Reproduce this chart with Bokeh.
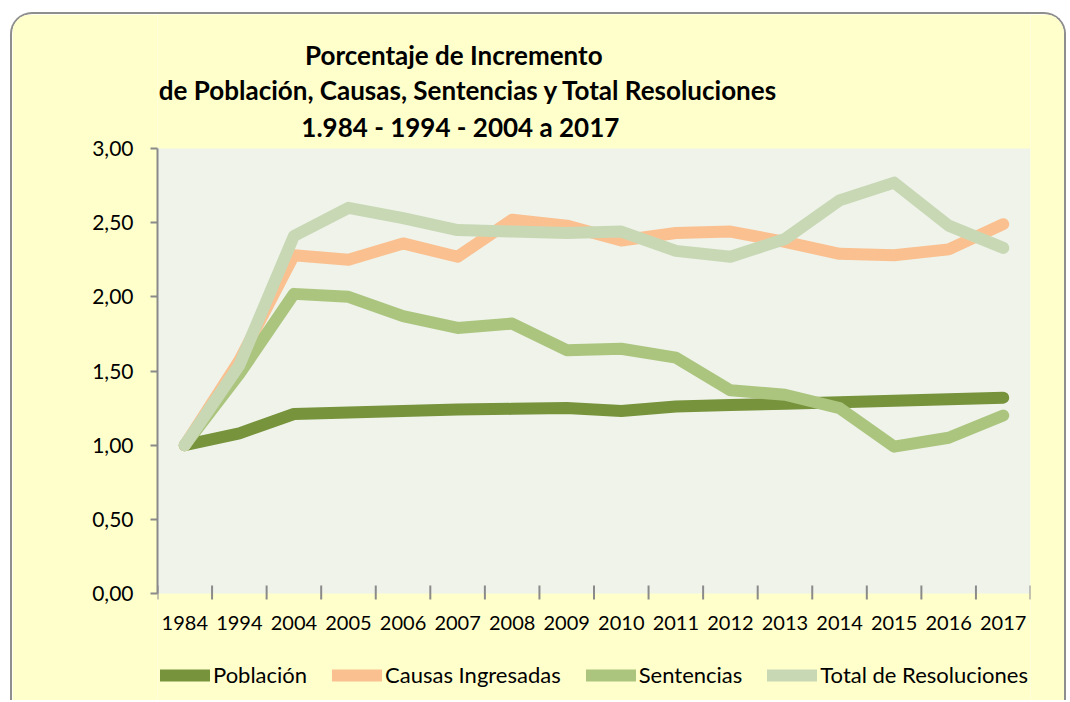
import numpy as np
from bokeh.plotting import figure
from bokeh.models import (Range1d, FixedTicker, LinearAxis, Legend, LegendItem, Label, BoxAnnotation)
from bokeh.core.properties import value
from bokeh.embed import file_html
from bokeh.resources import INLINE

years = ["1984", "1994", "2004", "2005", "2006", "2007", "2008", "2009",
         "2010", "2011", "2012", "2013", "2014", "2015", "2016", "2017"]
poblacion = [1.00, 1.08, 1.21, 1.22, 1.23, 1.24, 1.245, 1.25, 1.23, 1.26,
             1.27, 1.28, 1.29, 1.30, 1.31, 1.32]
causas = [1.00, 1.57, 2.28, 2.25, 2.36, 2.27, 2.52, 2.48, 2.38, 2.43,
          2.44, 2.37, 2.29, 2.28, 2.32, 2.49]
sentencias = [1.00, 1.48, 2.02, 2.00, 1.87, 1.79, 1.82, 1.64, 1.65, 1.59,
              1.37, 1.34, 1.25, 0.99, 1.05, 1.20]
total = [1.00, 1.54, 2.41, 2.60, 2.53, 2.45, 2.44, 2.43, 2.44, 2.31,
         2.27, 2.39, 2.65, 2.77, 2.48, 2.33]
series_names = ["Población", "Causas Ingresadas", "Sentencias", "Total de Resoluciones"]
series_colors = ["#77933C", "#FAC090", "#ABC57F", "#C8D8B5"]
y_ticks = [0.0, 0.5, 1.0, 1.5, 2.0, 2.5, 3.0]
y_tick_labels = ["0,00", "0,50", "1,00", "1,50", "2,00", "2,50", "3,00"]
title_lines = ["Porcentaje de Incremento",
               "de Población, Causas, Sentencias y Total Resoluciones",
               "1.984 - 1994 - 2004 a 2017"]

FONT = "Lato"
GRAY = "#8a8a8a"
YELLOW = "#FFFFCC"
PX = 148.33  # pixels per y unit (layout constant)

y_min, y_max = y_ticks[0], y_ticks[-1]
# the frame spans the whole canvas height; the plot area is 0..3 inside it
y_lo = y_min - 109 / PX
y_hi = y_max + 134 / PX

p = figure(width=1056, height=688, output_backend="svg", toolbar_location=None,
           x_range=Range1d(0, len(years)), y_range=Range1d(y_lo, y_hi),
           x_axis_type=None, y_axis_type=None,
           min_border_left=145, min_border_top=0, min_border_right=38,
           min_border_bottom=0)
p.title.visible = False
p.margin = (12, 0, 0, 10)
p.styles = {"border-top": "2px solid #8e8e8e", "border-left": "2px solid #8e8e8e",
            "border-right": "2px solid #8e8e8e",
            "border-radius": "22px 22px 0 0", "overflow": "hidden"}
p.background_fill_color = YELLOW
p.border_fill_color = YELLOW
p.outline_line_color = None

# plot area background
p.add_layout(BoxAnnotation(left=0, right=len(years), bottom=y_min, top=y_max,
                           fill_color="#EFF3EA", fill_alpha=1, line_color=None, level="image"))

xc = np.arange(len(years)) + 0.5
edges = np.arange(len(years) + 1)

# y axis
yaxis = LinearAxis(ticker=FixedTicker(ticks=y_ticks), bounds=(y_min, y_max))
yaxis.major_label_overrides = {v: s for v, s in zip(y_ticks, y_tick_labels)}
yaxis.major_tick_in = 0
yaxis.major_tick_out = 7
yaxis.major_tick_line_color = GRAY
yaxis.major_tick_line_width = 2
yaxis.minor_tick_line_color = None
yaxis.axis_line_color = GRAY
yaxis.axis_line_width = 2
yaxis.major_label_standoff = 17
yaxis.major_label_text_font = FONT
yaxis.major_label_text_font_size = "21px"
yaxis.major_label_text_color = "#000000"
p.add_layout(yaxis, "left")

p.ygrid.ticker = FixedTicker(ticks=y_ticks)
p.ygrid.grid_line_color = GRAY
p.ygrid.grid_line_width = 2
p.xgrid.grid_line_color = None

# category axis: tick marks on band edges and year labels under band centres
p.segment(x0=edges, y0=y_min - 6 / PX, x1=edges, y1=y_min + 8 / PX,
          line_color=GRAY, line_width=2)
p.text(x=xc, y=y_min - 30 / PX, text=years, text_align="center", text_baseline="middle",
       text_font=value(FONT), text_font_size="20px", text_color="#000000")

renderers = []
for vals, col in zip([poblacion, causas, sentencias, total], series_colors):
    r = p.line(xc, vals, line_color=col, line_width=12, line_cap="round", line_join="round")
    renderers.append(r)

legend = Legend(items=[LegendItem(label=n, renderers=[r]) for n, r in zip(series_names, renderers)],
                orientation="horizontal", location=(3, 14),
                padding=0, margin=0, spacing=25, label_standoff=3,
                glyph_width=50, glyph_height=20, label_height=20,
                background_fill_alpha=0, border_line_color=None,
                label_text_font=FONT, label_text_font_size="22px", label_text_color="#000000")
p.add_layout(legend, "center")

# chart title
title_x = [5.43, 5.70, 5.55]
title_px = [538, 503, 466]  # distance above the 0 line, pixels
for t, tx, ty in zip(title_lines, title_x, title_px):
    p.add_layout(Label(x=tx, y=y_min + ty / PX, text=t, text_align="center",
                       text_baseline="middle", text_font=FONT, text_font_style="bold",
                       text_font_size="26px", text_color="#000000"))

open("out.html", "w").write(file_html(p, INLINE))
